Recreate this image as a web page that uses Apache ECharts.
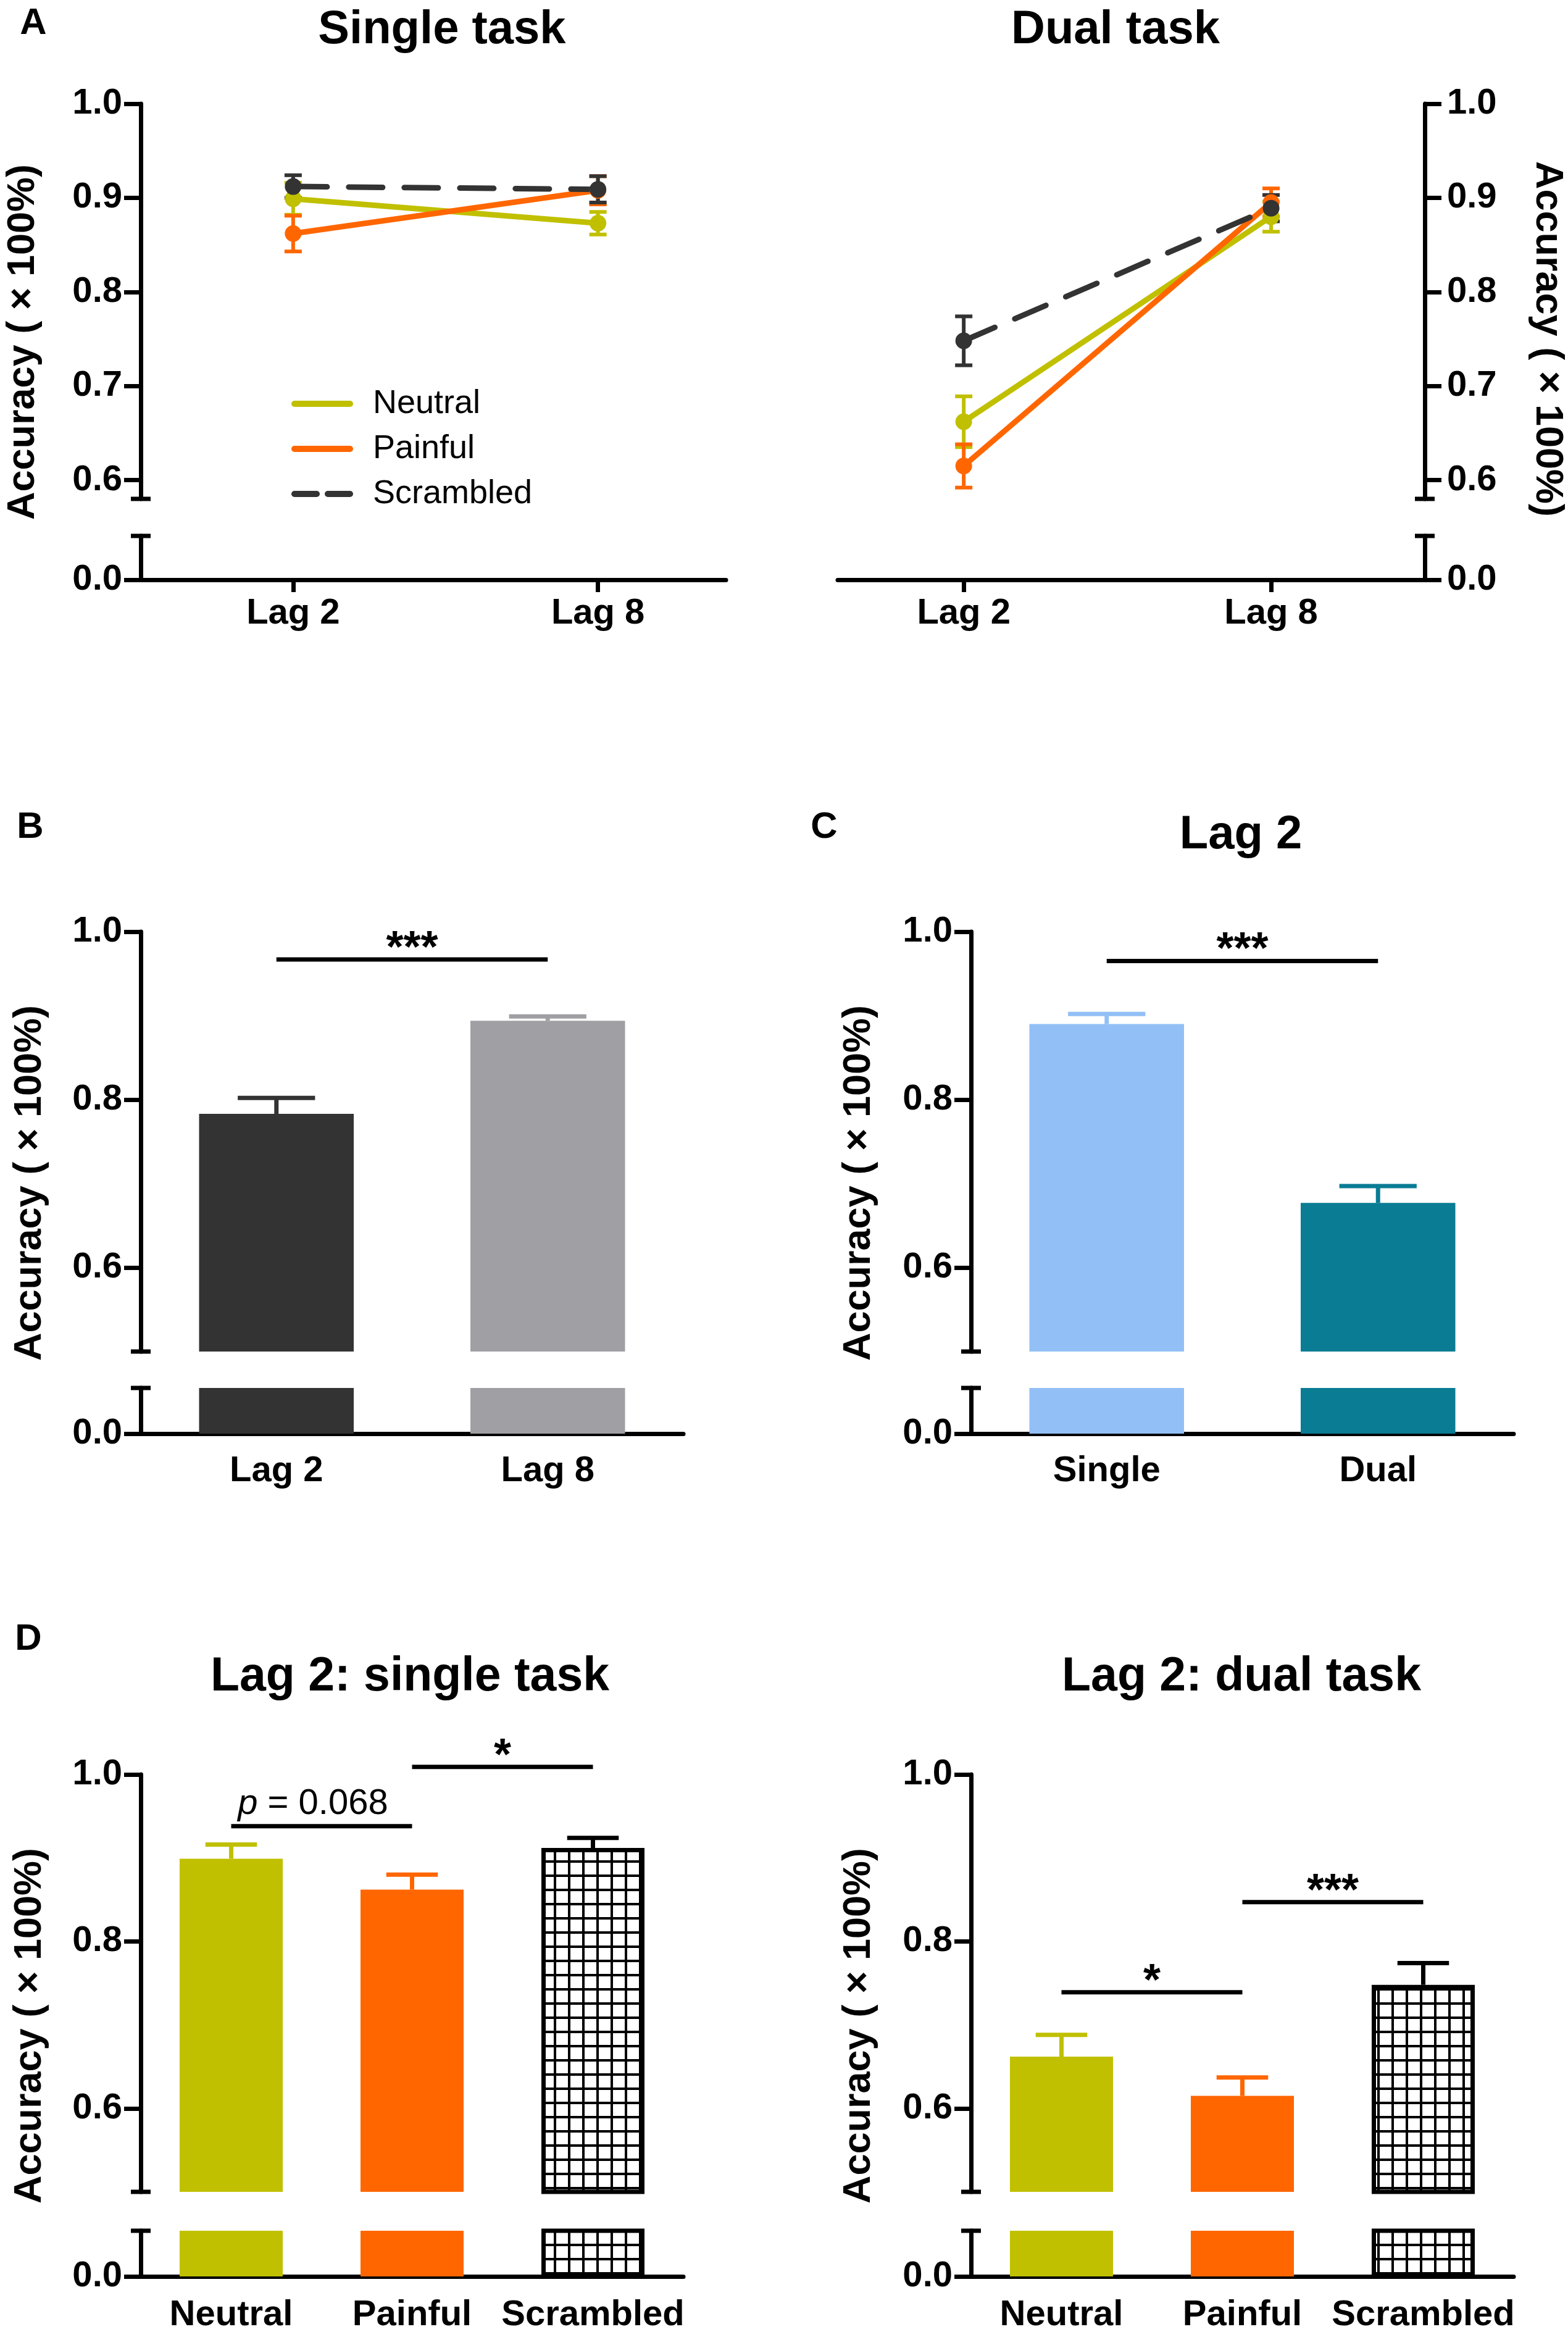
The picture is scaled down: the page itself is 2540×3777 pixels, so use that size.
<!DOCTYPE html>
<html lang="en">
<head>
    <meta charset="utf-8">
    <title>Accuracy</title>
    <script src="https://cdn.jsdelivr.net/npm/echarts@6/dist/echarts.min.js"></script>
    <style>
        html, body { margin: 0; padding: 0; background: #ffffff; }
        #main { width: 2540px; height: 3777px; }
    </style>
</head>
<body>

<div id="main"></div>

<script type="text/javascript">

    // ---- data ----
    var lagCats = ['Lag 2', 'Lag 8'];
    var taskCats = ['Single', 'Dual'];
    var condNames = ['Neutral', 'Painful', 'Scrambled'];

    // panel A: rows Neutral / Painful / Scrambled, columns Lag 2 / Lag 8
    var singleMean = [[0.899, 0.873], [0.862, 0.908], [0.912, 0.909]];
    var singleSE   = [[0.017, 0.012], [0.019, 0.015], [0.012, 0.014]];
    var dualMean   = [[0.662, 0.880], [0.615, 0.895], [0.748, 0.889]];
    var dualSE     = [[0.027, 0.016], [0.023, 0.015], [0.026, 0.014]];

    // panel B (by lag) and C (lag 2, by task)
    var lagMean  = [0.783, 0.894];
    var lagSE    = [0.019, 0.005];
    var taskMean = [0.890, 0.677];
    var taskSE   = [0.012, 0.020];

    // panel D (lag 2, by condition)
    var lag2SingleMean = [0.899, 0.862, 0.912];
    var lag2SingleSE   = [0.017, 0.018, 0.012];
    var lag2DualMean   = [0.662, 0.615, 0.748];
    var lag2DualSE     = [0.026, 0.022, 0.026];

    // significance brackets: [from category, to category, height, label]
    var sigB = [[0, 1, 0.967, '***']];
    var sigC = [[0, 1, 0.965, '***']];
    var sigDSingle = [[0, 1, 0.938, 'p = 0.068'], [1, 2, 1.009, '*']];
    var sigDDual = [[0, 1, 0.739, '*'], [1, 2, 0.847, '***']];

    // ---- styles ----
    var FONT = '"Liberation Sans", Arial, sans-serif';
    var condColors = ['#c0c000', '#ff6600', '#333333'];
    var lagColors = ['#333333', '#a0a0a4'];
    var taskColors = ['#92bff6', '#0a7c94'];
    var AX = { color: '#000000', width: 7 };

    // checked fill for the scrambled bars
    var hatch = document.createElement('canvas');
    hatch.width = 23;
    hatch.height = 23;
    var hc = hatch.getContext('2d');
    hc.fillStyle = '#ffffff';
    hc.fillRect(0, 0, 23, 23);
    hc.fillStyle = '#000000';
    hc.fillRect(0, 0, 23, 4);
    hc.fillRect(0, 0, 4, 23);
    var scrambledStyle = { color: { image: hatch, repeat: 'repeat' }, borderColor: '#000000', borderWidth: 7 };

    var grid = [], xAxis = [], yAxis = [], series = [];

    function fmt(v) { return v.toFixed(1); }

    function labelStyle(size, margin) {
        return { color: '#000', fontSize: size, fontWeight: 'bold', fontFamily: FONT, margin: margin };
    }

    // y axis split in two pieces: upper (min..1.0) and lower (0..0.05)
    function brokenY(gi, min, ticks, side, margin) {
        var upLabel = labelStyle(58, margin);
        upLabel.customValues = ticks;
        upLabel.formatter = fmt;
        yAxis.push({
            gridIndex: gi, type: 'value', min: min, max: 1, position: side,
            axisLine: { show: true, onZero: false, symbol: ['rect', 'none'], symbolSize: [32, 7], lineStyle: AX },
            axisTick: { show: true, length: 27, lineStyle: AX, customValues: ticks },
            axisLabel: upLabel,
            splitLine: { show: false }
        });
        var lowLabel = labelStyle(58, margin);
        lowLabel.customValues = [0];
        lowLabel.formatter = fmt;
        yAxis.push({
            gridIndex: gi + 1, type: 'value', min: 0, max: 0.05, position: side,
            axisLine: { show: true, onZero: false, symbol: ['none', 'rect'], symbolSize: [32, 7], lineStyle: AX },
            axisTick: { show: true, length: 27, lineStyle: AX, customValues: [0] },
            axisLabel: lowLabel,
            splitLine: { show: false }
        });
    }

    function lineErr(params, api) {
        var x = api.value(0), m = api.value(1), se = api.value(2);
        var hi = api.coord([x, m + se]), lo = api.coord([x, m - se]);
        var st = { stroke: api.visual('color'), lineWidth: 6 };
        return {
            type: 'group',
            children: [
                { type: 'line', shape: { x1: hi[0], y1: hi[1], x2: lo[0], y2: lo[1] }, style: st },
                { type: 'line', shape: { x1: hi[0] - 14, y1: hi[1], x2: hi[0] + 14, y2: hi[1] }, style: st },
                { type: 'line', shape: { x1: lo[0] - 14, y1: lo[1], x2: lo[0] + 14, y2: lo[1] }, style: st }
            ]
        };
    }

    function barErr(params, api) {
        var x = api.value(0), m = api.value(1), se = api.value(2);
        var base = api.coord([x, m]), top = api.coord([x, m + se]);
        var half = api.size([1, 0])[0] * 0.57 * 0.25;
        var st = { stroke: api.visual('color'), lineWidth: 7 };
        return {
            type: 'group',
            children: [
                { type: 'line', shape: { x1: base[0], y1: base[1], x2: top[0], y2: top[1] }, style: st },
                { type: 'line', shape: { x1: top[0] - half, y1: top[1], x2: top[0] + half, y2: top[1] }, style: st }
            ]
        };
    }

    function sigRender(rows) {
        return function (params, api) {
            var r = rows[params.dataIndex];
            var a = api.coord([api.value(0), api.value(2)]);
            var b = api.coord([api.value(1), api.value(2)]);
            var star = /^\*+$/.test(r[3]);
            var tstyle = {
                text: star ? r[3] : r[3].replace(/^p/, '{i|p}'),
                fill: '#000',
                fontSize: star ? 72 : 58,
                fontWeight: star ? 'bold' : 'normal',
                fontFamily: FONT,
                align: 'center', verticalAlign: 'middle',
                textAlign: 'center', textVerticalAlign: 'middle',
                rich: { i: { fontStyle: 'italic', fontSize: 58, fontFamily: FONT, fill: '#000' } }
            };
            return {
                type: 'group',
                children: [
                    { type: 'line', shape: { x1: a[0], y1: a[1], x2: b[0], y2: b[1] }, style: { stroke: '#000', lineWidth: 7 } },
                    { type: 'text', x: (a[0] + b[0]) / 2 - (star ? 0 : 14), y: a[1] - (star ? 16 : 36), style: tstyle }
                ]
            };
        };
    }

    function linePanel(left, width, xmin, xmax, side, labelMargin, means, ses) {
        var gi = grid.length;
        grid.push({ left: left, top: 168, width: width, height: 640, outerBoundsMode: 'none' });
        grid.push({ left: left, top: 868, width: width, height: 71, outerBoundsMode: 'none' });
        xAxis.push({ gridIndex: gi, type: 'value', min: xmin, max: xmax, show: false });
        var xl = labelStyle(58, 26);
        xl.customValues = [1, 2];
        xl.formatter = function (v) { return lagCats[Math.round(v) - 1]; };
        xAxis.push({
            gridIndex: gi + 1, type: 'value', min: xmin, max: xmax,
            axisLine: { show: true, onZero: false, lineStyle: AX },
            axisTick: { show: true, length: 20, lineStyle: AX, customValues: [1, 2] },
            axisLabel: xl,
            splitLine: { show: false }
        });
        brokenY(gi, 0.58, [0.6, 0.7, 0.8, 0.9, 1.0], side, labelMargin);
        means.forEach(function (row, c) {
            series.push({
                type: 'custom', name: condNames[c] + ' SEM', xAxisIndex: gi, yAxisIndex: gi,
                renderItem: lineErr,
                itemStyle: { color: condColors[c] },
                data: row.map(function (m, i) { return [i + 1, m, ses[c][i]]; })
            });
            series.push({
                type: 'line', name: condNames[c], xAxisIndex: gi, yAxisIndex: gi,
                symbol: 'circle', symbolSize: 27,
                itemStyle: { color: condColors[c] },
                lineStyle: { color: condColors[c], width: 9, type: c === 2 ? [55, 35] : 'solid', cap: 'round' },
                data: row.map(function (m, i) { return [i + 1, m]; })
            });
        });
    }

    function barPanel(left, top, upperH, lowTop, cats, means, ses, styles, sig, labelMargin) {
        var gi = grid.length;
        grid.push({ left: left, top: top, width: 879, height: upperH, outerBoundsMode: 'none' });
        grid.push({ left: left, top: lowTop, width: 879, height: 74, outerBoundsMode: 'none' });
        xAxis.push({ gridIndex: gi, type: 'category', data: cats, show: false });
        var xl = labelStyle(58, labelMargin);
        xl.interval = 0;
        xl.hideOverlap = false;
        xAxis.push({
            gridIndex: gi + 1, type: 'category', data: cats,
            axisLine: { show: true, onZero: false, lineStyle: AX },
            axisTick: { show: false },
            axisLabel: xl
        });
        brokenY(gi, 0.5, [0.6, 0.8, 1.0], 'left', 30);
        var items = means.map(function (m, i) { return { value: m, itemStyle: styles[i] }; });
        [gi, gi + 1].forEach(function (k) {
            series.push({ type: 'bar', xAxisIndex: k, yAxisIndex: k, barWidth: '57%', clip: true, data: items });
        });
        series.push({
            type: 'custom', xAxisIndex: gi, yAxisIndex: gi, renderItem: barErr,
            data: means.map(function (m, i) {
                var c = typeof styles[i].color === 'string' ? styles[i].color : '#000000';
                return { value: [i, m, ses[i]], itemStyle: { color: c } };
            })
        });
        series.push({
            type: 'custom', xAxisIndex: gi, yAxisIndex: gi, clip: false,
            renderItem: sigRender(sig),
            data: sig.map(function (r) { return [r[0], r[1], r[2]]; })
        });
    }

    function solid(c) { return { color: c }; }

    linePanel(228, 948, 0.5, 2.42, 'left', 30, singleMean, singleSE);
    linePanel(1357, 951, 0.59, 2.5, 'right', 36, dualMean, dualSE);
    barPanel(228, 1509, 680, 2248, lagCats, lagMean, lagSE, lagColors.map(solid), sigB, 32);
    barPanel(1573, 1509, 680, 2248, taskCats, taskMean, taskSE, taskColors.map(solid), sigC, 32);
    var condStyles = [solid(condColors[0]), solid(condColors[1]), scrambledStyle];
    barPanel(228, 2874, 676, 3613, condNames, lag2SingleMean, lag2SingleSE, condStyles, sigDSingle, 34);
    barPanel(1573, 2874, 676, 3613, condNames, lag2DualMean, lag2DualSE, condStyles, sigDDual, 34);

    function txt(text, x, y, size, rot) {
        return {
            type: 'text', x: x, y: y, rotation: rot || 0,
            style: {
                text: text, fill: '#000', fontSize: size, fontWeight: 'bold', fontFamily: FONT,
                align: 'center', verticalAlign: 'middle', textAlign: 'center', textVerticalAlign: 'middle'
            }
        };
    }

    var yName = 'Accuracy ( \u00d7 100%)';
    var graphic = [
        txt('A', 54, 38, 60), txt('B', 49, 1340, 60), txt('C', 1335, 1340, 60), txt('D', 46, 2655, 60),
        txt('Single task', 716, 49, 76), txt('Dual task', 1807, 49, 76),
        txt('Lag 2', 2010, 1353, 76),
        txt('Lag 2: single task', 664, 2717, 77), txt('Lag 2: dual task', 2011, 2717, 77),
        txt(yName, 38, 554, 63, Math.PI / 2), txt(yName, 2506, 549, 63, -Math.PI / 2),
        txt(yName, 49, 1916, 63, Math.PI / 2), txt(yName, 1392, 1916, 63, Math.PI / 2),
        txt(yName, 49, 3281, 63, Math.PI / 2), txt(yName, 1392, 3281, 63, Math.PI / 2)
    ];

    var myChart = echarts.init(document.getElementById('main'));

    option = {
        animation: false,
        backgroundColor: '#ffffff',
        textStyle: { fontFamily: FONT },
        legend: {
            orient: 'vertical',
            left: 467,
            top: 622,
            itemWidth: 90,
            itemHeight: 52,
            itemGap: 19,
            selectedMode: false,
            itemStyle: { opacity: 0 },
            lineStyle: { width: 10 },
            textStyle: { color: '#000', fontSize: 54, fontFamily: FONT, padding: [0, 0, 0, 32] },
            data: [
                { name: 'Neutral' },
                { name: 'Painful' },
                { name: 'Scrambled', lineStyle: { width: 10, type: [36, 18], cap: 'round' } }
            ]
        },
        grid: grid,
        xAxis: xAxis,
        yAxis: yAxis,
        series: series,
        graphic: graphic
    };

    myChart.setOption(option);

</script>

</body>
</html>
